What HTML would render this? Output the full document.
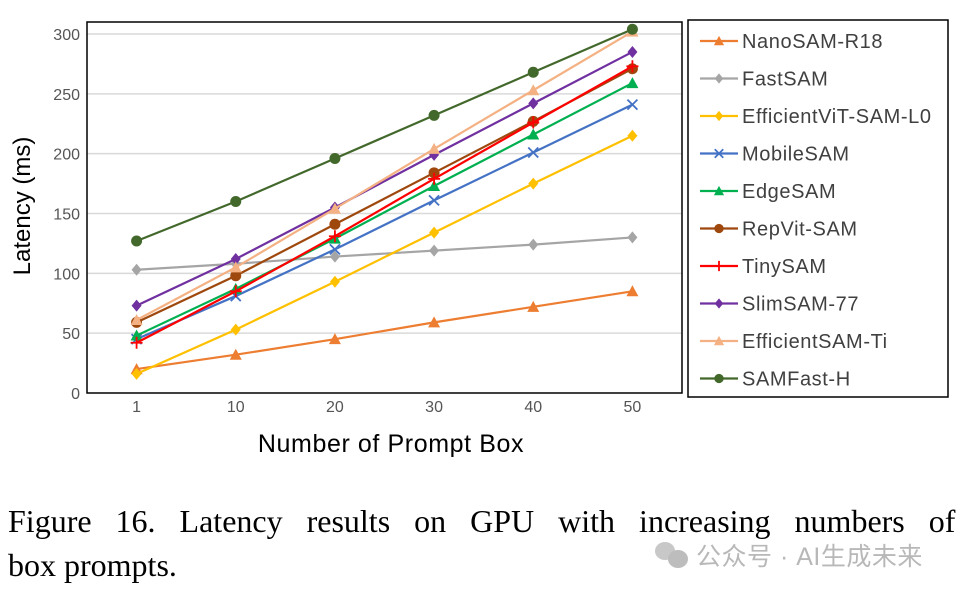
<!DOCTYPE html>
<html><head><meta charset="utf-8"><style>
body{margin:0;background:#fff;width:966px;height:594px;overflow:hidden}
svg{display:block}
</style></head><body>
<svg id="chart" width="966" height="594" xmlns="http://www.w3.org/2000/svg">
<g id="grid"></g>
<g id="series"></g>
<rect x="87" y="22" width="595" height="371" fill="none" stroke="#000" stroke-width="1.5"/>
<g id="ylabels" font-family="Liberation Sans, sans-serif" font-size="16" fill="#555"></g>
<g id="xlabels" font-family="Liberation Sans, sans-serif" font-size="16" fill="#555"></g>
<text x="391" y="452" text-anchor="middle" font-family="Liberation Sans, sans-serif" font-size="25" letter-spacing="0.6" fill="#000">Number of Prompt Box</text>
<text transform="translate(30,206) rotate(-90)" text-anchor="middle" font-family="Liberation Sans, sans-serif" font-size="24" fill="#000">Latency (ms)</text>
<rect x="688" y="20" width="260" height="377" fill="#fff" stroke="#000" stroke-width="1.5"/>
<g id="legend"></g>
<text x="8" y="532" font-family="Liberation Serif, serif" font-size="32" word-spacing="16" fill="#000">Figure 16.  Latency results on GPU with increasing numbers of</text>
<text x="8" y="576" font-family="Liberation Serif, serif" font-size="32" fill="#000">box prompts.</text>
<g>
<ellipse cx="665" cy="551" rx="10" ry="9" fill="#c8c8c8"/>
<ellipse cx="678" cy="559" rx="10" ry="9" fill="#bdbdbd"/>
<text x="696" y="565" font-family="Liberation Sans, 'Noto Sans CJK SC', sans-serif" font-size="25" letter-spacing="0.5" fill="#b8b8b8">公众号 · AI生成未来</text>
</g>
</svg>
<script>
const categories=["1","10","20","30","40","50"];
const yTicks=[0,50,100,150,200,250,300];
const names=["NanoSAM-R18","FastSAM","EfficientViT-SAM-L0","MobileSAM","EdgeSAM","RepVit-SAM","TinySAM","SlimSAM-77","EfficientSAM-Ti","SAMFast-H"];
const nanoSAM=[20,32,45,59,72,85];
const fastSAM=[103,108,114,119,124,130];
const effViT=[16,53,93,134,175,215];
const mobileSAM=[45,81,120,161,201,241];
const edgeSAM=[48,87,129,173,216,259];
const repVit=[59,98,141,184,227,271];
const tinySAM=[42,85,131,179,226,273];
const slimSAM=[73,112,155,199,242,285];
const effSAMTi=[61,105,154,204,253,302];
const samFast=[127,160,196,232,268,304];
const seriesValues=[nanoSAM,fastSAM,effViT,mobileSAM,edgeSAM,repVit,tinySAM,slimSAM,effSAMTi,samFast];
const colors=["#ed7d31","#a5a5a5","#ffc000","#4472c4","#00b050","#9e480e","#ff0000","#7030a0","#f4b183","#43682b"];
const markers=["tri","dia","dia","x","tri","circ","plus","dia","tri","circ"];
const NS="http://www.w3.org/2000/svg";
const X0=87,W=595,Y0=393,YT=34,YMAX=300;
function xs(i){return X0+W/categories.length*(i+0.5);}
function ys(v){return Y0-(Y0-YT)*v/YMAX;}
function mk(tag,attrs,parent){const e=document.createElementNS(NS,tag);for(const k in attrs)e.setAttribute(k,attrs[k]);parent.appendChild(e);return e;}
function marker(type,x,y,c,parent,s){
 s=s||1;let e;
 if(type==="tri")e=mk("polygon",{points:`${x},${y-6*s} ${x+6*s},${y+5*s} ${x-6*s},${y+5*s}`,fill:c},parent);
 else if(type==="dia")e=mk("polygon",{points:`${x},${y-6*s} ${x+5*s},${y} ${x},${y+6*s} ${x-5*s},${y}`,fill:c},parent);
 else if(type==="circ")e=mk("circle",{cx:x,cy:y,r:5.5*s,fill:c},parent);
 else if(type==="x")e=mk("path",{d:`M${x-5*s},${y-5*s}L${x+5*s},${y+5*s}M${x+5*s},${y-5*s}L${x-5*s},${y+5*s}`,stroke:c,"stroke-width":1.8},parent);
 else e=mk("path",{d:`M${x-6*s},${y}L${x+6*s},${y}M${x},${y-6*s}L${x},${y+6*s}`,stroke:c,"stroke-width":1.8},parent);
 return e;
}
const grid=document.getElementById("grid"),yl=document.getElementById("ylabels"),xl=document.getElementById("xlabels");
yTicks.forEach(t=>{
 if(t>0){const g=mk("line",{x1:X0,x2:X0+W,y1:ys(t),y2:ys(t),stroke:"#d9d9d9","stroke-width":1.5},grid);
 
 }
 const l=mk("text",{x:80,y:ys(t)+6,"text-anchor":"end"},yl);l.textContent=t;
 
 
});
categories.forEach((c,i)=>{
 const l=mk("text",{x:xs(i),y:412,"text-anchor":"middle"},xl);l.textContent=c;
 
 
});
const sg=document.getElementById("series"),lg=document.getElementById("legend");
seriesValues.forEach((vals,k)=>{
 const g=mk("g",{},sg);
 
 
 const p=mk("polyline",{points:vals.map((v,i)=>xs(i)+","+ys(v)).join(" "),fill:"none",stroke:colors[k],"stroke-width":2.2},g);
 
 
 vals.forEach((v,i)=>{const m=marker(markers[k],xs(i),ys(v),colors[k],g);
  
  });
 const ly=41+k*37.5;
 const le=mk("g",{},lg);
 
 
 mk("line",{x1:700,x2:738,y1:ly,y2:ly,stroke:colors[k],"stroke-width":2.2},le);
 marker(markers[k],719,ly,colors[k],le,0.85);
 const t=mk("text",{x:742,y:ly+7,"font-family":"Liberation Sans, sans-serif","font-size":20,"letter-spacing":0.6,fill:"#404040"},le);
 t.textContent=names[k];
});
</script>
</body></html>
